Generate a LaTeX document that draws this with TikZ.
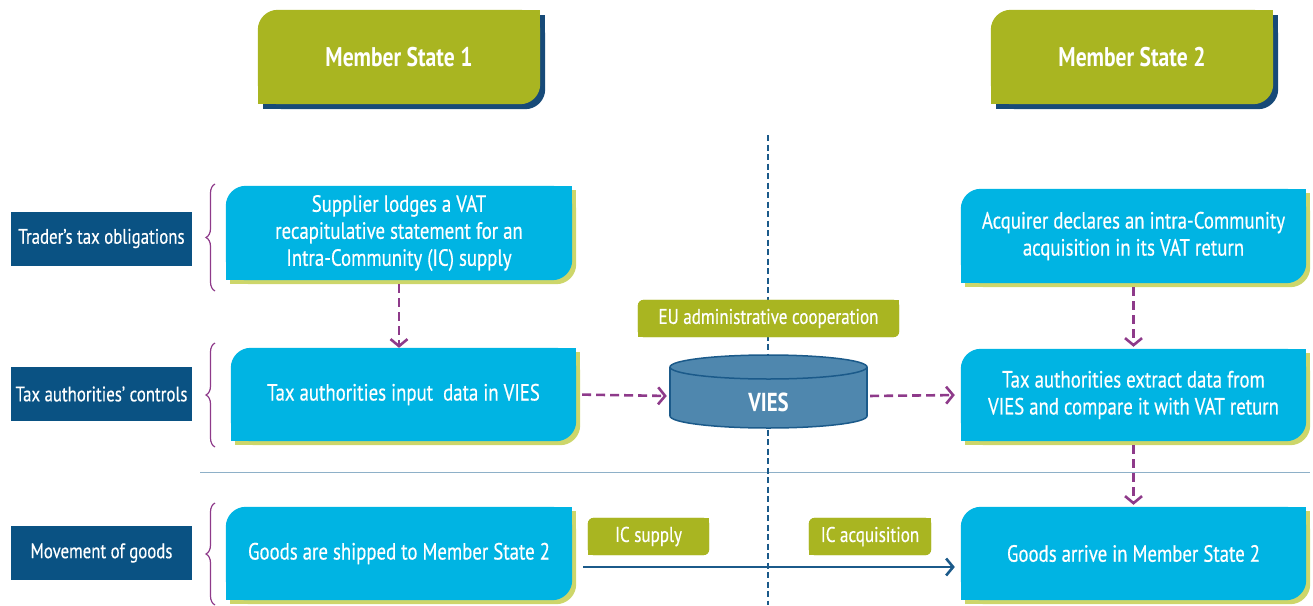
\documentclass[tikz,border=0pt]{standalone}
\usepackage{fontspec}
\setmainfont{PT Sans}[FakeStretch=0.8,UprightFeatures={FakeBold=0.4}]
\usetikzlibrary{arrows.meta,decorations.pathreplacing,backgrounds}
\definecolor{mgreen}{HTML}{A9B521}
\definecolor{mcyan}{HTML}{00B4E3}
\definecolor{mnavy}{HTML}{0A5283}
\definecolor{mline}{HTML}{1B5A8A}
\definecolor{mcyl}{HTML}{4F87AE}
\definecolor{mpurple}{HTML}{8E3A8A}
\definecolor{mshadowy}{HTML}{CDD66A}
\definecolor{mshadowb}{HTML}{174A78}
\definecolor{msep}{HTML}{8EB0C8}
\newcommand{\tabbg}[5]{%
 \begin{scope}[on background layer]
  \fill[#3,rounded corners=#4pt] ([shift={(#5,#5)}]#1.north west) rectangle ([shift={(#5,#5)}]#1.south east);
  \fill[#3] ([shift={(#5,#5)}]#1.north east) rectangle ++(-#4,#4);
  \fill[#3] ([shift={(#5,#5)}]#1.south west) rectangle ++(#4,-#4);
  \fill[#2,rounded corners=#4pt] (#1.north west) rectangle (#1.south east);
  \fill[#2] (#1.north east) rectangle ++(-#4,#4);
  \fill[#2] (#1.south west) rectangle ++(#4,-#4);
 \end{scope}}
\begin{document}
\begin{tikzpicture}[x=1pt,y=-1pt,
  boxtext/.style={inner sep=0pt, text=white, align=center, font=\fontsize{23.5}{27}\selectfont},
  headtext/.style={inner sep=0pt, text=white, align=center, font=\bfseries\fontsize{27}{30}\selectfont, minimum width=282pt, minimum height=94pt},
  cyanbox/.style={boxtext, minimum width=345pt, minimum height=94pt},
  sidelabel/.style={inner sep=0pt, text=white, fill=mnavy, align=center, font=\fontsize{21}{24}\selectfont, minimum width=181pt, minimum height=54pt},
  tagbox/.style={inner sep=0pt, text=white, align=center, font=\fontsize{21.3}{24}\selectfont, minimum height=37pt},
  purparrow/.style={draw=mpurple, line width=2.6pt, dash pattern=on 9pt off 5pt, -{Straight Barb[length=7pt,width=17pt,line width=2.6pt]}},
  sbrace/.style={draw=mpurple, line width=1.2pt, decorate, decoration={brace, amplitude=9pt}},
]
\useasboundingbox (0,0) rectangle (1313,605);

\begin{scope}[on background layer]
  \draw[msep, line width=1pt] (200,472) -- (1310,472);
  \draw[mline, line width=2.6pt, dash pattern=on 6pt off 3.5pt] (768,135) -- (768,605);
\end{scope}

% headers
\node[headtext] (h1) at (399,57) {Member State 1};
\tabbg{h1}{mgreen}{mshadowb}{20}{5}
\node[headtext] (h2) at (1132,57) {Member State 2};
\tabbg{h2}{mgreen}{mshadowb}{20}{5}

% side labels
\node[sidelabel] (l1) at (101.5,238.5) {Trader’s tax obligations};
\node[sidelabel] (l2) at (101.5,394) {Tax authorities’ controls};
\node[sidelabel] (l3) at (101.5,553) {Movement of goods};

% braces
\draw[sbrace] (215,291) -- (215,184);
\draw[sbrace] (215,447) -- (215,343);
\draw[sbrace] (215,605) -- (215,503);

% left column
\node[cyanbox, minimum width=346pt] (s1) at (399,233) {Supplier lodges a VAT\\recapitulative statement for an\\Intra-Community (IC) supply};
\tabbg{s1}{mcyan}{mshadowy}{20}{4}
\node[cyanbox, minimum height=93pt] (s2) at (403.5,394.5) {Tax authorities input\ \ data in VIES};
\tabbg{s2}{mcyan}{mshadowy}{20}{4}
\node[cyanbox, minimum width=346pt, minimum height=93pt] (s3) at (399,553.5) {Goods are shipped to Member State 2};
\tabbg{s3}{mcyan}{mshadowy}{20}{4}

% right column
\node[cyanbox] (r1) at (1133.5,236) {Acquirer declares an intra-Community\\acquisition in its VAT return};
\tabbg{r1}{mcyan}{mshadowy}{20}{4}
\node[cyanbox, minimum height=92pt] (r2) at (1133.5,395) {Tax authorities extract data from\\VIES and compare it with VAT return};
\tabbg{r2}{mcyan}{mshadowy}{20}{4}
\node[cyanbox, minimum height=93pt] (r3) at (1133.5,553.5) {Goods arrive in Member State 2};
\tabbg{r3}{mcyan}{mshadowy}{20}{4}

% tags
\node[tagbox, minimum width=261pt] (eu) at (768.5,318.5) {EU administrative cooperation};
\tabbg{eu}{mgreen}{mgreen}{6}{0}
\node[tagbox, minimum width=121pt] (ics) at (648.5,536.5) {IC supply};
\tabbg{ics}{mgreen}{mgreen}{6}{0}
\node[tagbox, minimum width=122pt] (ica) at (870,536.5) {IC acquisition};
\tabbg{ica}{mgreen}{mgreen}{6}{0}

% VIES cylinder
\fill[mcyl] (670,367) rectangle (867,416);
\fill[mcyl] (768.5,416) ellipse [x radius=98.5pt, y radius=12pt];
\begin{scope}
  \clip (660,416) rectangle (880,440);
  \draw[mline, line width=1.5pt] (768.5,416) ellipse [x radius=98.5pt, y radius=12pt];
\end{scope}
\draw[mline, line width=1.5pt] (670,367) -- (670,416) (867,367) -- (867,416);
\draw[mline, line width=1.5pt, fill=mcyl] (768.5,367) ellipse [x radius=98.5pt, y radius=12pt];
\node[inner sep=0pt, minimum width=197pt, minimum height=73pt] (vies) at (768.5,396) {};
\node[inner sep=0pt, text=white, font=\bfseries\fontsize{26}{30}\selectfont] (viestext) at (768.5,402) {VIES};

% connectors
\draw[purparrow, shorten <=4pt] (s1.south) -- (s1.south |- s2.north);
\draw[purparrow, shorten <=6pt, shorten >=3pt] (s2.east) -- (vies.west);
\draw[purparrow, shorten <=3pt, shorten >=6pt] (vies.east) -- (r2.west);
\draw[purparrow, shorten <=4pt, shorten >=2pt] (r1.south) -- (r2.north);
\draw[purparrow, shorten <=4pt, shorten >=2pt] (r2.south) -- (r3.north);
\draw[mline, line width=2.6pt, -{Straight Barb[length=7pt,width=17pt,line width=2.6pt]}, shorten <=11pt, shorten >=6pt] ([yshift=-13.5pt]s3.east) -- ([yshift=-13.5pt]r3.west);
\end{tikzpicture}
\end{document}
